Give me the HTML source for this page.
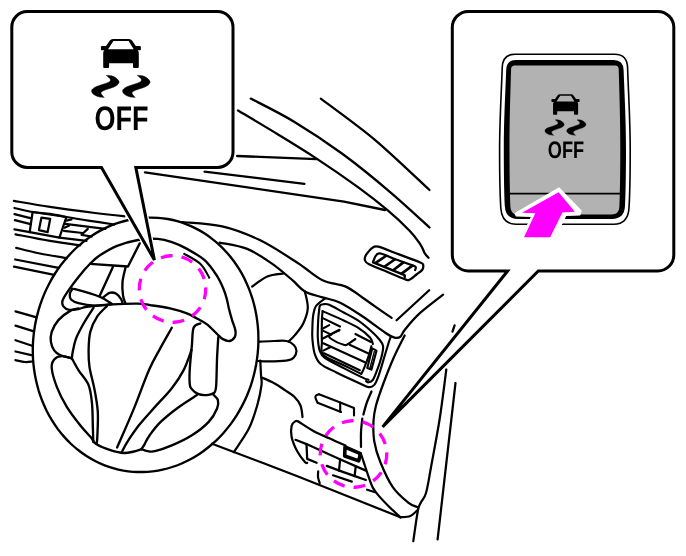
<!DOCTYPE html>
<html><head><meta charset="utf-8"><title>VDC OFF switch</title>
<style>
html,body{margin:0;padding:0;background:#fff;}
body{width:686px;height:556px;overflow:hidden;}
svg{display:block;}
text{font-family:"Liberation Sans",sans-serif;font-weight:bold;fill:#000;text-rendering:geometricPrecision;}
svg{will-change:transform;}
</style></head><body>
<svg width="686" height="556" viewBox="0 0 686 556">
<rect width="686" height="556" fill="#fff"/>
<g fill="none" stroke="#000" stroke-linecap="round" stroke-linejoin="round">
<path d="M250.8 98.6C258.0 102.4 278.9 112.5 294.1 121.7C309.4 130.9 326.2 142.0 342.3 153.8C358.4 165.6 375.9 180.0 390.4 192.3C404.9 204.6 423.0 221.6 429.5 227.5" stroke-width="2.30" />
<path d="M238.0 110.5C244.7 114.5 265.0 126.5 278.1 134.5C291.2 142.5 303.2 149.8 316.6 158.6C330.0 167.4 346.5 178.8 358.3 187.4C370.1 196.0 378.6 202.7 387.2 209.9C395.8 217.1 404.1 225.0 409.6 230.7C415.1 236.4 417.7 240.5 420.3 244.3C422.9 248.1 423.6 251.5 425.0 253.7C426.4 255.9 427.9 257.0 428.5 257.7" stroke-width="2.30" />
<path d="M320.8 98.6C329.7 105.4 356.2 124.1 374.3 139.3C392.4 154.5 420.3 181.6 429.5 190.0" stroke-width="2.30" />
<path d="M237.1 156.0L316.6 159.2" stroke-width="2.30" />
<path d="M204.6 171.6L304.4 183.8" stroke-width="2.30" />
<path d="M145.0 172.3L344.0 201.7L385.0 210.0" stroke-width="2.30" />
<path d="M256.2 364.3C255.5 368.0 254.8 371.6 253.8 375.2C252.9 378.8 251.9 382.3 250.7 385.8C249.5 389.3 248.1 392.8 246.7 396.2C245.2 399.6 243.6 402.9 241.9 406.1C240.2 409.4 238.4 412.6 236.5 415.6C234.5 418.7 232.5 421.7 230.3 424.6C228.1 427.4 225.8 430.2 223.5 432.9C221.1 435.6 218.6 438.1 216.1 440.6C213.5 443.0 210.8 445.3 208.1 447.5C205.4 449.7 202.6 451.8 199.7 453.7C196.8 455.6 193.9 457.4 190.9 459.0C187.9 460.6 184.8 462.1 181.7 463.5C178.6 464.8 175.4 466.0 172.2 467.0C169.1 468.0 165.8 468.9 162.6 469.6C159.3 470.4 156.1 470.9 152.8 471.3C149.5 471.7 146.2 472.0 143.0 472.0C139.7 472.1 136.4 472.0 133.1 471.8C129.9 471.5 126.6 471.1 123.4 470.6C120.2 470.0 117.0 469.3 113.9 468.4C110.7 467.5 107.6 466.5 104.6 465.3C101.5 464.1 98.5 462.7 95.6 461.2C92.6 459.7 89.7 458.1 86.9 456.3C84.1 454.5 81.4 452.6 78.8 450.5C76.1 448.5 73.6 446.3 71.1 444.0C68.6 441.6 66.3 439.2 64.0 436.6C61.7 434.1 59.6 431.4 57.5 428.6C55.5 425.8 53.5 422.9 51.7 419.9C49.9 417.0 48.2 413.9 46.6 410.7C45.1 407.5 43.6 404.3 42.3 401.0C41.0 397.6 39.8 394.2 38.7 390.8C37.7 387.3 36.8 383.8 36.0 380.3C35.2 376.7 34.6 373.1 34.1 369.5C33.6 365.9 33.2 362.2 33.0 358.5C32.8 354.8 32.8 351.1 32.8 347.4C32.9 343.7 33.1 340.0 33.5 336.3C33.9 332.6 34.4 329.0 35.0 325.3C35.7 321.6 36.4 318.0 37.4 314.4C38.3 310.8 39.3 307.3 40.5 303.8C41.7 300.3 43.1 296.8 44.5 293.4C46.0 290.0 47.6 286.7 49.3 283.5C51.0 280.2 52.8 277.0 54.7 274.0C56.7 270.9 58.7 267.9 60.9 265.0C63.1 262.2 65.4 259.4 67.7 256.7C70.1 254.0 72.6 251.5 75.1 249.0C77.7 246.6 80.4 244.3 83.1 242.1C85.8 239.9 88.6 237.8 91.5 235.9C94.4 234.0 97.3 232.2 100.3 230.6C103.3 229.0 106.4 227.5 109.5 226.1C112.6 224.8 115.8 223.6 119.0 222.6C122.1 221.6 125.4 220.7 128.6 220.0C131.9 219.2 135.1 218.7 138.4 218.3C141.7 217.9 145.0 217.6 148.2 217.6C151.5 217.5 154.8 217.6 158.1 217.8C161.3 218.1 164.6 218.5 167.8 219.0C171.0 219.6 174.2 220.3 177.3 221.2C180.5 222.1 183.6 223.1 186.6 224.3C189.7 225.5 192.7 226.9 195.6 228.4C198.6 229.9 201.5 231.5 204.3 233.3C207.1 235.1 209.8 237.0 212.4 239.1C215.1 241.1 217.6 243.3 220.1 245.6C222.6 248.0 224.9 250.4 227.2 253.0C229.5 255.5 231.6 258.2 233.7 261.0C235.7 263.8 237.7 266.7 239.5 269.7C241.3 272.6 243.0 275.7 244.6 278.9C246.1 282.1 247.6 285.3 248.9 288.6C250.2 292.0 251.4 295.4 252.5 298.8C253.5 302.3 254.4 305.8 255.2 309.3C256.0 312.9 256.6 316.5 257.1 320.1C257.6 323.7 258.0 327.4 258.2 331.1C258.4 334.8 258.4 338.5 258.4 342.2C258.3 345.9 258.1 349.6 257.7 353.3C257.3 357.0 256.8 360.6 256.2 364.3Z" stroke-width="2.35" />
<path d="M182.0 222.0C188.7 222.7 209.2 223.3 222.2 226.3C235.2 229.3 247.3 234.0 259.8 240.1C272.3 246.2 286.9 256.0 297.4 262.7C307.8 269.4 314.5 276.2 322.5 280.2C330.5 284.1 338.5 283.5 345.2 286.4C351.9 289.3 356.8 293.7 362.7 297.7C368.6 301.7 375.5 306.8 380.3 310.2C385.1 313.6 389.7 316.5 391.6 317.8" stroke-width="2.24" />
<path d="M219.6 242.6C224.2 243.7 238.4 245.4 247.2 248.9C256.0 252.4 264.8 258.7 272.3 263.9C279.8 269.1 287.0 275.6 292.4 280.2C297.8 284.8 299.9 288.6 304.9 291.5C309.9 294.4 316.7 295.5 322.6 297.4C328.5 299.3 333.5 299.5 340.2 302.7C346.9 305.9 355.2 311.5 362.7 316.5C370.2 321.5 379.9 329.2 385.3 332.8C390.7 336.4 392.8 337.2 395.3 337.8C397.8 338.4 398.7 338.1 400.4 336.6C402.1 335.1 402.1 333.0 405.4 329.0C408.7 325.0 414.1 318.4 420.4 312.7C426.7 307.0 439.2 297.7 443.0 294.7" stroke-width="2.24" />
<path d="M429.2 290.2L396.6 320.3" stroke-width="2.24" />
<path d="M252.2 286.5C254.7 284.8 262.1 278.7 267.3 276.5C272.5 274.3 280.9 274.0 283.6 273.5" stroke-width="2.24" />
<path d="M304.9 291.5C305.4 294.2 308.0 302.6 307.8 307.8C307.6 313.1 305.6 318.4 303.5 323.0C301.4 327.6 297.4 332.0 294.9 335.1C292.4 338.2 289.7 340.3 288.6 341.4" stroke-width="2.24" />
<path d="M259.0 341.7C261.5 341.6 269.5 341.1 274.1 341.0C278.7 340.9 283.3 340.3 286.6 341.0C289.9 341.7 292.2 343.4 293.8 345.0C295.4 346.6 296.5 348.8 296.5 350.9C296.5 353.0 295.1 355.9 293.8 357.4C292.5 358.9 291.9 359.4 288.6 360.1C285.3 360.8 279.1 361.2 274.1 361.4C269.1 361.5 261.0 361.1 258.4 361.0" stroke-width="2.24" />
<path d="M261.6 377.5C263.7 378.4 270.4 381.1 274.3 383.2C278.2 385.3 281.7 387.9 285.0 390.2C288.3 392.5 291.7 394.2 294.3 396.8C296.9 399.4 299.1 402.1 300.5 405.5C301.9 408.9 302.2 415.1 302.5 417.0" stroke-width="2.24" />
<path d="M260.3 360.7C260.4 363.1 260.8 371.1 261.0 375.2C261.2 379.2 262.1 380.0 261.5 385.0C260.9 390.0 259.4 397.8 257.3 405.1C255.2 412.4 252.8 420.8 248.9 428.6C245.0 436.4 236.3 448.2 233.8 452.1" stroke-width="2.24" />
<path d="M367.8 252.5C369.0 251.1 370.8 248.8 372.5 247.8C374.2 246.8 373.9 245.6 378.3 246.7C382.7 247.8 392.0 251.8 399.0 254.4C406.0 257.0 416.3 260.6 420.3 262.4C424.3 264.2 422.9 264.0 423.2 265.3C423.5 266.6 423.2 268.5 422.1 270.0C421.0 271.5 418.3 273.1 416.5 274.5C414.7 275.9 412.8 277.6 411.5 278.5C410.2 279.4 409.9 279.7 409.0 279.9C408.1 280.1 409.5 280.9 406.0 279.6C402.5 278.3 394.2 274.8 388.0 272.2C381.8 269.6 372.9 266.2 369.0 264.2C365.1 262.2 365.5 261.5 364.9 260.1C364.3 258.7 365.0 257.3 365.5 256.0C366.0 254.7 366.6 253.9 367.8 252.5Z" stroke-width="2.24" />
<path d="M373.1 261.5C374.1 260.1 375.1 253.7 378.9 253.4C382.7 253.1 390.3 257.5 396.0 259.5C401.7 261.5 410.0 264.3 413.3 265.6C416.6 266.9 415.5 266.6 415.8 267.3C416.1 268.0 415.2 269.6 415.1 270.0" stroke-width="2.24" />
<path d="M373.1 262.4L404.6 275.2L404.8 276.8" stroke-width="2.46" />
<path d="M385.9 256.0L376.0 262.6" stroke-width="2.69" />
<path d="M394.7 259.5L384.7 266.5" stroke-width="2.69" />
<path d="M403.4 262.4L393.5 270.0" stroke-width="2.69" />
<path d="M412.1 265.9L401.6 273.7" stroke-width="2.69" />
<path d="M13.9 200.9C19.9 201.9 36.5 204.9 50.0 206.9C63.5 208.9 82.6 211.4 95.0 213.0C107.4 214.6 119.4 215.8 124.3 216.3" stroke-width="2.24" />
<path d="M14.5 208.0C17.5 208.7 26.7 211.0 32.6 212.0C38.5 213.0 44.4 213.0 50.0 213.8C55.6 214.6 59.7 215.8 66.4 217.0C73.1 218.2 82.0 219.6 90.0 220.8C98.0 222.1 110.2 223.9 114.2 224.5" stroke-width="2.24" />
<path d="M14.5 214.1L31.3 218.3" stroke-width="2.24" />
<path d="M14.9 220.2L30.6 224.2" stroke-width="2.24" />
<path d="M14.5 229.4L29.7 232.1" stroke-width="2.24" />
<path d="M32.6 212.0L66.4 217.0L59.4 237.6L29.7 232.1Z" stroke-width="2.24" />
<path d="M41.4 217.6L50.2 218.9L47.6 232.2L38.9 230.2Z" stroke-width="2.24" />
<path d="M15.5 234.3C21.2 235.4 39.2 239.1 50.0 240.9C60.8 242.7 75.2 244.6 80.2 245.3" stroke-width="2.24" />
<path d="M16.2 247.8C20.2 248.8 31.6 251.8 40.0 253.5C48.4 255.2 62.3 257.4 66.8 258.2" stroke-width="2.24" />
<path d="M15.2 259.5L58.6 267.8" stroke-width="2.24" />
<path d="M14.0 266.6L54.2 274.8" stroke-width="2.24" />
<path d="M66.4 220.7L71.4 219.5" stroke-width="2.24" />
<path d="M65.1 223.9L105.4 228.9" stroke-width="2.24" />
<path d="M64.5 227.7L68.9 225.8" stroke-width="2.24" />
<path d="M63.9 230.8L82.7 233.0" stroke-width="2.24" />
<path d="M87.8 228.9L81.5 234.8L91.6 236.5" stroke-width="2.24" />
<path d="M59.4 237.6L86.5 240.8" stroke-width="2.24" />
<path d="M15.5 311.3L36.6 317.3" stroke-width="2.24" />
<path d="M15.5 325.6L33.9 331.4" stroke-width="2.24" />
<path d="M15.5 340.2L32.1 345.7" stroke-width="2.24" />
<path d="M15.5 351.5L31.3 355.2" stroke-width="2.24" />
<path d="M15.5 360.2C17.1 360.5 22.2 361.8 25.0 362.0C27.8 362.2 30.9 361.6 32.1 361.5" stroke-width="2.24" />
<path d="M62.6 300.4C63.5 297.7 65.8 294.2 68.5 290.3C71.2 286.4 74.9 281.4 78.5 276.9C82.1 272.4 86.7 267.1 90.3 263.5C93.9 259.9 95.8 258.0 100.3 255.1C104.8 252.2 110.8 248.4 117.1 245.9C123.4 243.4 131.2 241.2 138.0 240.0C144.8 238.8 152.0 238.5 157.7 238.9C163.4 239.3 167.1 240.5 172.0 242.2C176.9 243.9 181.6 245.9 187.0 248.9C192.4 251.9 199.7 255.8 204.6 260.2C209.5 264.6 213.3 270.4 216.5 275.2C219.7 280.0 221.8 285.0 223.5 289.0C225.2 293.0 225.9 295.7 226.8 299.0C227.7 302.3 228.1 305.5 229.0 309.0C229.9 312.5 231.0 316.5 232.1 320.1C233.2 323.7 235.0 327.7 235.4 330.5C235.8 333.3 235.7 335.4 234.7 337.1C233.7 338.9 231.5 340.7 229.5 341.0C227.5 341.3 224.9 340.2 222.9 339.1C220.9 338.0 220.2 337.0 217.6 334.5C214.9 332.0 210.4 327.0 207.0 324.3C203.6 321.6 200.2 320.3 196.9 318.5C193.6 316.7 191.4 315.1 186.9 313.4C182.4 311.7 176.2 309.8 170.1 308.4C163.9 307.0 155.5 305.9 150.0 305.1C144.5 304.3 143.5 303.7 137.2 303.6C130.9 303.5 120.5 303.9 112.1 304.4C103.7 304.9 92.5 306.0 86.9 306.8C81.3 307.6 81.4 308.5 78.5 309.0C75.6 309.5 71.8 310.2 69.3 309.8C66.8 309.4 64.5 308.0 63.4 306.4C62.3 304.8 61.8 303.1 62.6 300.4Z" stroke-width="2.35" />
<path d="M90.3 263.8L128.0 266.5L139.7 243.4" stroke-width="2.35" />
<path d="M112.9 266.9L99.5 296.2" stroke-width="2.35" />
<path d="M125.5 267.7C125.0 270.1 122.9 277.3 122.5 281.9C122.1 286.5 122.5 291.8 123.0 295.4C123.5 299.0 125.1 302.3 125.5 303.7" stroke-width="2.35" />
<path d="M102.8 297.9C103.9 297.0 107.2 293.5 109.5 292.8C111.8 292.1 114.3 292.6 116.3 293.7C118.3 294.8 120.3 297.8 121.3 299.5C122.3 301.2 122.3 303.0 122.5 303.7" stroke-width="2.35" />
<path d="M112.1 304.2C110.1 303.0 106.5 299.5 100.3 297.0C94.1 294.5 79.8 290.4 75.0 289.2C70.2 288.0 72.7 289.1 71.8 290.0C70.9 290.9 69.9 292.9 69.8 294.5C69.7 296.1 69.5 298.1 71.0 299.5C72.5 300.9 74.5 302.2 78.5 303.2C82.5 304.2 89.7 305.4 95.3 305.6C100.9 305.8 109.3 304.4 112.1 304.2" stroke-width="2.35" />
<path d="M78.6 308.4C77.2 308.8 73.6 308.9 70.2 310.9C66.8 312.8 61.5 316.6 58.4 320.1C55.3 323.6 53.0 328.3 51.7 331.9C50.5 335.5 50.5 338.8 50.9 341.9C51.3 345.0 52.7 348.1 54.2 350.3C55.7 352.5 57.1 353.6 60.1 355.0C63.1 356.4 69.9 357.8 71.9 358.4" stroke-width="2.35" />
<path d="M93.6 307.6C91.9 310.2 86.5 318.3 83.6 323.5C80.7 328.7 77.8 333.9 76.0 338.6C74.2 343.4 73.4 348.7 72.7 352.0C72.0 355.3 72.0 357.3 71.9 358.4" stroke-width="2.35" />
<path d="M107.1 305.9C105.4 307.7 99.8 312.5 97.0 316.8C94.2 321.1 91.7 326.3 90.3 331.9C88.9 337.5 88.7 344.4 88.6 350.3C88.5 356.2 88.5 360.6 89.5 367.1C90.5 373.6 93.1 382.0 94.5 389.5C95.9 397.0 97.3 404.0 97.8 411.9C98.3 419.8 97.5 431.8 97.3 437.1C97.1 442.4 96.8 442.7 96.7 443.8" stroke-width="2.35" />
<path d="M71.9 358.4C70.2 358.0 64.8 356.0 61.8 356.2C58.8 356.4 55.9 357.5 54.2 359.5C52.5 361.5 51.3 363.4 51.7 368.0C52.1 372.6 54.3 380.3 56.8 386.8C59.3 393.3 62.9 400.5 66.8 406.9C70.7 413.3 76.0 420.0 80.2 425.3C84.4 430.6 90.0 436.3 92.0 438.5" stroke-width="2.35" />
<path d="M71.9 358.4C73.0 360.4 75.8 365.9 78.6 370.4C81.4 374.8 86.4 379.6 88.6 385.1C90.8 390.6 91.3 396.8 92.0 403.5C92.7 410.2 92.6 418.9 92.8 425.3C93.0 431.7 93.2 439.3 93.3 442.1" stroke-width="2.35" />
<path d="M92.0 439.0C92.8 439.9 93.9 442.8 97.0 444.6C100.1 446.5 105.9 448.7 110.4 450.1C114.9 451.5 119.9 452.8 123.8 453.0C127.7 453.2 130.9 452.1 133.9 451.5C136.9 450.9 140.3 449.5 141.6 449.1" stroke-width="2.35" />
<path d="M171.8 327.7C169.9 331.2 163.9 341.6 160.1 348.6C156.3 355.7 153.4 360.0 149.0 370.0C144.6 380.0 139.2 395.7 133.9 408.6C128.6 421.5 119.9 441.0 117.1 447.5" stroke-width="2.35" />
<path d="M200.3 323.5C199.2 324.2 195.0 324.1 193.6 327.7C192.2 331.3 192.5 338.7 191.9 345.3C191.3 351.9 190.3 361.0 189.9 367.1C189.5 373.2 189.4 378.4 189.6 382.0C189.8 385.6 189.6 386.4 191.1 388.4C192.6 390.4 195.7 393.1 198.6 394.2C201.5 395.3 206.0 395.1 208.7 394.8C211.3 394.5 213.2 394.2 214.5 392.6C215.8 391.0 215.8 390.5 216.2 385.0C216.6 379.5 216.7 367.4 217.0 359.4C217.3 351.4 218.1 340.8 218.3 337.1" stroke-width="2.35" />
<path d="M191.5 350.0C190.2 353.4 186.8 364.0 183.5 370.4C180.2 376.8 176.6 382.1 171.8 388.2C167.1 394.3 160.5 400.7 155.0 406.9C149.5 413.1 143.5 419.4 138.9 425.3C134.3 431.2 130.1 437.6 127.2 442.1C124.3 446.6 122.7 450.4 121.8 452.1" stroke-width="2.35" />
<path d="M196.9 395.1C193.7 397.2 184.0 403.2 177.9 407.7C171.8 412.2 165.1 417.6 160.4 422.2C155.7 426.8 152.1 431.9 149.5 435.5C146.9 439.1 146.1 441.5 144.8 443.8C143.5 446.1 142.1 448.2 141.6 449.1" stroke-width="2.35" />
<path d="M141.6 449.1C142.6 449.5 145.3 450.9 147.5 451.2C149.7 451.5 150.9 452.2 155.0 451.2C159.1 450.2 165.7 448.0 171.8 445.4C178.0 442.8 185.8 439.2 191.9 435.3C198.1 431.4 204.5 426.4 208.7 421.9C212.9 417.4 215.6 412.1 217.1 408.5C218.6 404.9 218.5 402.3 217.9 400.1C217.3 397.9 214.4 395.9 213.7 395.1" stroke-width="2.35" />
<path d="M184.2 253.8C186.9 255.5 196.3 259.9 200.5 263.9C204.7 267.9 207.8 275.3 209.2 277.6" stroke-width="2.02" />
<path d="M324.8 298.7C323.3 299.9 317.9 303.3 316.0 306.0C314.1 308.7 313.9 311.3 313.3 314.8C312.7 318.3 312.5 323.0 312.4 327.0C312.2 331.0 312.0 334.6 312.4 339.0C312.8 343.4 313.3 349.4 314.6 353.5C315.9 357.6 316.8 360.5 320.4 363.7C324.0 366.9 330.1 369.3 336.4 372.5C342.7 375.7 352.9 380.3 358.3 382.7C363.7 385.1 365.8 386.7 368.5 387.1C371.2 387.5 372.6 386.8 374.3 384.9C376.0 382.9 377.0 380.1 378.7 375.4C380.4 370.6 382.8 362.0 384.5 356.4C386.2 350.8 387.9 345.1 388.9 341.9C389.9 338.7 390.3 338.0 390.6 337.2" stroke-width="2.13" />
<path d="M319.2 309.7C319.3 309.0 319.3 306.4 320.0 305.5C320.7 304.6 321.8 304.4 323.3 304.3C324.8 304.2 325.8 303.4 329.2 304.8C332.6 306.2 338.8 309.9 343.7 312.5C348.6 315.1 353.9 317.7 358.3 320.6C362.7 323.5 366.5 326.9 370.0 330.0C373.5 333.1 377.2 336.8 379.4 339.5C381.6 342.2 382.7 343.4 383.1 346.2C383.5 349.0 382.6 352.5 381.6 356.4C380.6 360.3 378.8 365.7 377.3 369.6C375.9 373.5 374.4 377.7 372.9 379.8C371.4 381.9 369.6 382.1 368.5 382.3C367.4 382.5 366.4 381.2 366.0 381.0" stroke-width="2.13" />
<path d="M319.2 309.7C319.0 311.4 318.4 315.4 318.2 320.0C318.0 324.6 317.6 332.4 317.8 337.5C318.1 342.6 318.5 347.2 319.7 350.6C320.9 354.0 320.8 355.0 324.8 357.9C328.8 360.8 337.4 364.8 343.7 368.1C350.0 371.4 358.6 375.7 362.7 377.6C366.8 379.6 367.5 379.4 368.5 379.8" stroke-width="2.13" />
<path d="M322.6 311.1C326.1 312.7 337.8 317.7 343.7 320.5C349.6 323.3 353.9 325.1 358.3 327.9C362.7 330.7 367.6 334.8 370.0 337.5C372.4 340.2 372.4 342.9 372.9 344.0" stroke-width="2.13" />
<path d="M322.6 311.1C322.5 312.6 322.0 314.9 321.9 320.0C321.8 325.1 321.7 336.1 321.9 341.9C322.1 347.7 319.7 351.1 323.3 355.0C326.9 358.9 337.4 362.1 343.7 365.2C350.0 368.3 358.3 372.4 361.2 373.9" stroke-width="2.13" />
<path d="M371.4 346.2C370.9 347.9 369.7 352.8 368.5 356.4C367.3 360.0 365.3 365.2 364.1 368.1C362.9 371.0 361.7 372.9 361.2 373.9" stroke-width="2.13" />
<path d="M323.3 318.4L340.0 326.5" stroke-width="2.13" />
<path d="M355.4 334.0L371.0 342.0" stroke-width="2.13" />
<path d="M323.3 330.9L331.3 334.6" stroke-width="2.13" />
<path d="M349.6 344.8L368.5 353.5" stroke-width="2.13" />
<path d="M323.3 343.3L364.9 362.3" stroke-width="2.13" />
<path d="M324.0 353.2L359.8 370.2" stroke-width="2.13" />
<path d="M322.0 329.0L329.2 325.1" stroke-width="2.13" />
<path d="M322.0 339.0L339.4 329.8" stroke-width="2.13" />
<path d="M323.3 350.6L330.6 347.0" stroke-width="2.13" />
<path d="M339.4 330.2C337.8 331.1 331.2 333.8 329.9 335.3C328.5 336.8 329.0 337.4 331.3 339.0C333.6 340.6 340.9 344.0 343.7 344.8C346.5 345.6 346.2 345.0 348.1 344.0C350.1 343.0 354.2 339.8 355.4 339.0" stroke-width="2.13" />
<path d="M372.2 348.4L376.5 350.6L371.4 369.6L367.3 368.1Z" stroke-width="2.13" />
<path d="M374.3 351.3L370.0 368.0" stroke-width="1.34" />
<path d="M317.6 402.7C317.2 401.9 315.8 399.2 315.5 398.0C315.2 396.8 315.4 396.1 316.0 395.5C316.6 394.9 318.5 394.5 319.0 394.3" stroke-width="2.13" />
<path d="M319.0 394.3L336.4 401.0L354.0 407.9L354.0 415.5" stroke-width="2.13" />
<path d="M317.6 402.7L341.0 412.0" stroke-width="2.13" />
<path d="M340.2 402.5L340.2 411.7" stroke-width="2.13" />
<path d="M298.6 421.7C298.1 421.6 296.7 420.4 295.5 421.1C294.3 421.8 292.2 423.5 291.6 426.1C291.0 428.8 290.7 432.8 291.6 437.0C292.5 441.2 294.9 446.9 297.1 451.1C299.3 455.3 303.2 460.1 304.9 462.0C306.6 463.9 306.8 462.7 307.2 462.8" stroke-width="2.24" />
<path d="M298.6 421.7C301.2 423.3 309.1 428.7 314.3 431.5C319.5 434.3 324.8 436.2 330.0 438.6C335.2 441.0 342.9 444.4 345.5 445.6" stroke-width="2.24" />
<path d="M295.5 439.8L306.5 444.1L339.3 458.9L365.9 470.6" stroke-width="2.24" />
<path d="M306.5 444.1L307.2 458.9L316.6 462.8" stroke-width="2.24" />
<path d="M326.8 465.9L339.3 470.6L354.9 476.1L365.9 480.0" stroke-width="2.24" />
<path d="M340.1 459.7L339.0 470.6" stroke-width="2.24" />
<path d="M355.7 466.7L354.6 476.1" stroke-width="2.24" />
<path d="M333.0 475.3L351.8 481.6" stroke-width="2.24" />
<path d="M318.2 471.4C318.2 472.3 317.8 475.1 318.0 477.0C318.2 478.9 319.4 482.1 319.7 483.1" stroke-width="2.24" />
<path d="M345.0 447.0L360.4 453.6L358.7 460.9L344.7 456.0Z" stroke-width="3.58" />
<path d="M367.1 489.7L375.3 492.2" stroke-width="2.24" />
<path d="M212.0 443.7L265.0 463.8L300.0 477.2L350.2 497.2L400.3 517.3" stroke-width="2.24" />
<path d="M400.3 517.3C402.0 517.1 407.4 517.2 410.3 516.0C413.2 514.8 416.6 510.8 417.9 509.8" stroke-width="2.24" />
<path d="M404.7 335.4C402.9 339.0 397.6 348.9 394.0 357.0C390.4 365.1 386.2 375.9 383.2 384.0C380.2 392.1 377.6 399.3 376.0 405.5C374.4 411.7 373.8 415.0 373.5 421.0C373.2 427.0 373.2 434.7 374.3 441.5C375.4 448.3 377.2 454.4 380.3 462.0C383.4 469.6 388.2 480.5 392.8 487.2C397.4 493.9 403.6 498.9 407.8 502.3C412.0 505.7 416.2 506.5 417.9 507.3" stroke-width="2.24" />
<path d="M371.5 391.5C370.8 393.2 368.4 398.2 367.0 402.0C365.6 405.8 364.0 412.4 363.4 414.5" stroke-width="2.24" />
<path d="M362.3 418.5C362.1 420.8 361.2 427.2 361.0 432.0C360.8 436.8 361.0 444.5 361.0 447.0" stroke-width="2.24" />
<path d="M361.0 454.0C361.7 456.0 363.7 462.0 365.0 466.0C366.3 470.0 367.7 474.2 369.0 477.8C370.3 481.4 371.2 484.7 372.8 487.6C374.4 490.5 375.7 492.2 378.4 495.4C381.1 498.6 385.5 503.1 389.1 506.7C392.8 510.3 398.4 515.5 400.3 517.3" stroke-width="2.24" />
<path d="M446.3 369.5C445.2 377.9 442.1 403.7 439.5 420.0C436.9 436.3 433.2 455.0 431.0 467.2C428.8 479.4 427.7 487.1 426.0 493.0C424.3 498.9 422.4 499.4 421.0 502.3C419.6 505.2 419.2 504.0 417.9 510.5C416.6 517.0 414.1 536.0 413.3 541.1" stroke-width="2.24" />
<path d="M455.5 383.0L437.6 539.4" stroke-width="2.24" />
<path d="M454.6 325.4L452.5 331.7" stroke-width="2.24" />
</g>
<!-- dashed highlight circles -->
<g fill="none" stroke="#ff00ff" stroke-width="3.3">
<circle cx="172.5" cy="289" r="33.3" stroke-dasharray="11.9 9.023" transform="rotate(-2.7 172.5 289)"/>
<circle cx="353.5" cy="454" r="33.3" stroke-dasharray="11.9 9.023" transform="rotate(-2.7 353.5 454)"/>
</g>
<!-- left callout -->
<path d="M27.3 11.6H217.5a15.5 15.5 0 0 1 15.5 15.5V151.9a15.5 15.5 0 0 1 -15.5 15.5H135.8L154.4 260L101.5 167.4H27.3a15.5 15.5 0 0 1 -15.5 -15.5V27.1a15.5 15.5 0 0 1 15.5 -15.5Z" fill="none" stroke="#fff" stroke-width="5.6" stroke-linejoin="miter" stroke-miterlimit="4"/>
<path d="M27.3 11.6H217.5a15.5 15.5 0 0 1 15.5 15.5V151.9a15.5 15.5 0 0 1 -15.5 15.5H135.8L154.4 260L101.5 167.4H27.3a15.5 15.5 0 0 1 -15.5 -15.5V27.1a15.5 15.5 0 0 1 15.5 -15.5Z" fill="#fff" stroke="#000" stroke-width="3" stroke-linejoin="miter" stroke-miterlimit="4"/>
<g>
<path d="M113 39H129Q131 39 132 40.5L135.8 46H139.9Q140.9 46 140.9 47V49.2Q140.9 50.2 139.9 50.2H137.5Q138.8 51 138.8 53V67Q138.8 68.1 137.7 68.1H134.1Q133 68.1 133 67V63.3H109.1V67Q109.1 68.1 108 68.1H104.3Q103.2 68.1 103.2 67V53Q103.2 51 104.5 50.2H101.9Q100.9 50.2 100.9 49.2V47Q100.9 46 101.9 46H106L109.8 40.5Q110.8 39 113 39ZM113.4 41.1L108.1 49.3H133.7L128.6 41.1Z" fill="#000" fill-rule="evenodd"/>
<path d="M106.3 75.4C107.2 75.5 109.9 75.3 111.6 75.8C113.3 76.3 115.2 77.3 116.4 78.3C117.6 79.3 118.8 80.6 119.0 81.6C119.2 82.6 118.6 83.6 117.8 84.5C117.0 85.4 115.8 86.1 114.0 86.9C112.2 87.7 109.1 88.6 107.2 89.3C105.3 90.0 103.4 90.6 102.4 91.2C101.4 91.8 101.1 92.3 101.0 93.0C100.9 93.7 101.5 94.3 102.0 95.1C102.5 95.8 103.8 97.1 104.2 97.5C103.3 97.4 100.3 97.3 98.6 96.8C96.9 96.3 94.9 95.4 93.8 94.6C92.7 93.8 92.0 92.6 91.7 91.7C91.5 90.8 91.6 90.1 92.3 89.3C93.0 88.5 94.0 87.7 95.7 86.9C97.4 86.1 100.3 85.2 102.4 84.5C104.5 83.8 106.9 83.0 108.2 82.4C109.5 81.8 110.0 81.4 110.3 80.7C110.5 80.0 110.4 79.2 109.7 78.3C109.0 77.4 106.9 75.9 106.3 75.4Z" fill="#000" stroke="#000" stroke-width="0.5" stroke-linejoin="round"/>
<path d="M106.3 75.4C107.2 75.5 109.9 75.3 111.6 75.8C113.3 76.3 115.2 77.3 116.4 78.3C117.6 79.3 118.8 80.6 119.0 81.6C119.2 82.6 118.6 83.6 117.8 84.5C117.0 85.4 115.8 86.1 114.0 86.9C112.2 87.7 109.1 88.6 107.2 89.3C105.3 90.0 103.4 90.6 102.4 91.2C101.4 91.8 101.1 92.3 101.0 93.0C100.9 93.7 101.5 94.3 102.0 95.1C102.5 95.8 103.8 97.1 104.2 97.5C103.3 97.4 100.3 97.3 98.6 96.8C96.9 96.3 94.9 95.4 93.8 94.6C92.7 93.8 92.0 92.6 91.7 91.7C91.5 90.8 91.6 90.1 92.3 89.3C93.0 88.5 94.0 87.7 95.7 86.9C97.4 86.1 100.3 85.2 102.4 84.5C104.5 83.8 106.9 83.0 108.2 82.4C109.5 81.8 110.0 81.4 110.3 80.7C110.5 80.0 110.4 79.2 109.7 78.3C109.0 77.4 106.9 75.9 106.3 75.4Z" fill="#000" stroke="#000" stroke-width="0.5" stroke-linejoin="round" transform="translate(31 0)"/>
<text x="94.5" y="129.9" font-size="34" textLength="54" lengthAdjust="spacingAndGlyphs">OFF</text>
</g>
<!-- right callout -->
<path d="M468.3 11.4H657.8a16 16 0 0 1 16 16V255.0a16 16 0 0 1 -16 16H538.3L382.6 426.9L507.6 271.0H468.3a16 16 0 0 1 -16 -16V27.4a16 16 0 0 1 16 -16Z" fill="none" stroke="#fff" stroke-width="5.6" stroke-linejoin="miter" stroke-miterlimit="4"/>
<path d="M468.3 11.4H657.8a16 16 0 0 1 16 16V255.0a16 16 0 0 1 -16 16H538.3L382.6 426.9L507.6 271.0H468.3a16 16 0 0 1 -16 -16V27.4a16 16 0 0 1 16 -16Z" fill="#fff" stroke="#000" stroke-width="3" stroke-linejoin="miter" stroke-miterlimit="4"/>
<!-- switch -->
<path d="M515 54.2H614.8Q627.3 54.2 627.6 68C628.5 95 630.2 120 630.2 150C630.2 175 629.8 195 629 208Q628 224.2 613.8 224.2H516Q501.8 224.2 500.8 208C500 195 499.6 175 499.6 150C499.6 120 501.3 95 502.2 68Q502.5 54.2 515 54.2Z" fill="#fff" stroke="#000" stroke-width="1.6"/>
<path d="M516 60H613.8Q623.3 60 623.6 70C624.5 95 626 120 626 150C626 175 625.6 195 625 206Q624.3 218.9 612 218.9H517.8Q505.5 218.9 504.8 206C504.2 195 503.8 175 503.8 150C503.8 120 505.3 95 506.2 70Q506.5 60 516 60Z" fill="#000"/>
<path d="M514.5 65.5H615.3Q618.5 65.5 618.7 69C619.5 95 620.3 120 620.3 150C620.3 175 619.9 195 619.4 207Q619 214.5 611.5 214.5H518.3Q510.8 214.5 510.4 207C509.9 195 509.5 175 509.5 150C509.5 120 510.3 95 511.1 69Q511.3 65.5 514.5 65.5Z" fill="#b2b2b2"/>
<path d="M510 193.6H620" stroke="#000" stroke-width="1.6" fill="none"/>
<g transform="translate(565.5 94.2) scale(0.703) translate(-120.9 -39)">
<path d="M113 39H129Q131 39 132 40.5L135.8 46H139.9Q140.9 46 140.9 47V49.2Q140.9 50.2 139.9 50.2H137.5Q138.8 51 138.8 53V67Q138.8 68.1 137.7 68.1H134.1Q133 68.1 133 67V63.3H109.1V67Q109.1 68.1 108 68.1H104.3Q103.2 68.1 103.2 67V53Q103.2 51 104.5 50.2H101.9Q100.9 50.2 100.9 49.2V47Q100.9 46 101.9 46H106L109.8 40.5Q110.8 39 113 39ZM113.4 41.1L108.1 49.3H133.7L128.6 41.1Z" fill="#000" fill-rule="evenodd"/>
<path d="M106.3 75.4C107.2 75.5 109.9 75.3 111.6 75.8C113.3 76.3 115.2 77.3 116.4 78.3C117.6 79.3 118.8 80.6 119.0 81.6C119.2 82.6 118.6 83.6 117.8 84.5C117.0 85.4 115.8 86.1 114.0 86.9C112.2 87.7 109.1 88.6 107.2 89.3C105.3 90.0 103.4 90.6 102.4 91.2C101.4 91.8 101.1 92.3 101.0 93.0C100.9 93.7 101.5 94.3 102.0 95.1C102.5 95.8 103.8 97.1 104.2 97.5C103.3 97.4 100.3 97.3 98.6 96.8C96.9 96.3 94.9 95.4 93.8 94.6C92.7 93.8 92.0 92.6 91.7 91.7C91.5 90.8 91.6 90.1 92.3 89.3C93.0 88.5 94.0 87.7 95.7 86.9C97.4 86.1 100.3 85.2 102.4 84.5C104.5 83.8 106.9 83.0 108.2 82.4C109.5 81.8 110.0 81.4 110.3 80.7C110.5 80.0 110.4 79.2 109.7 78.3C109.0 77.4 106.9 75.9 106.3 75.4Z" fill="#000" stroke="#000" stroke-width="0.5" stroke-linejoin="round"/>
<path d="M106.3 75.4C107.2 75.5 109.9 75.3 111.6 75.8C113.3 76.3 115.2 77.3 116.4 78.3C117.6 79.3 118.8 80.6 119.0 81.6C119.2 82.6 118.6 83.6 117.8 84.5C117.0 85.4 115.8 86.1 114.0 86.9C112.2 87.7 109.1 88.6 107.2 89.3C105.3 90.0 103.4 90.6 102.4 91.2C101.4 91.8 101.1 92.3 101.0 93.0C100.9 93.7 101.5 94.3 102.0 95.1C102.5 95.8 103.8 97.1 104.2 97.5C103.3 97.4 100.3 97.3 98.6 96.8C96.9 96.3 94.9 95.4 93.8 94.6C92.7 93.8 92.0 92.6 91.7 91.7C91.5 90.8 91.6 90.1 92.3 89.3C93.0 88.5 94.0 87.7 95.7 86.9C97.4 86.1 100.3 85.2 102.4 84.5C104.5 83.8 106.9 83.0 108.2 82.4C109.5 81.8 110.0 81.4 110.3 80.7C110.5 80.0 110.4 79.2 109.7 78.3C109.0 77.4 106.9 75.9 106.3 75.4Z" fill="#000" stroke="#000" stroke-width="0.5" stroke-linejoin="round" transform="translate(31 0)"/>
<text x="95.6" y="129.9" font-size="34" textLength="51.8" lengthAdjust="spacingAndGlyphs">OFF</text>
</g>
<!-- arrow -->
<path d="M559 188L581.2 210.8L579.8 215L566 215.3L553.5 240H520.5L531.8 216.3L516.3 216L515 213.5Z" fill="#fff" stroke="#fff" stroke-width="1.2" stroke-linejoin="round"/>
<path d="M558.6 192.2L574.8 211.7L562.4 212.4L550.2 237.3H524L535.3 213.2L522 212.8Z" fill="#ff00ff"/>
</svg>
</body></html>
